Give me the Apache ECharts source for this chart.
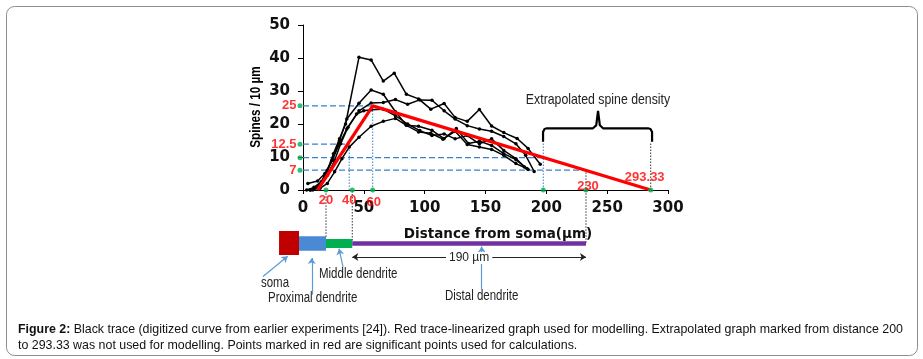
<!DOCTYPE html>
<html>
<head>
<meta charset="utf-8">
<script src="https://cdn.jsdelivr.net/npm/echarts@6/dist/echarts.min.js"></script>
<style>
  html, body { margin: 0; padding: 0; background: #fff; }
  #chart { width: 923px; height: 359px; }
</style>
</head>
<body>
<div id="chart"></div>
<script>
const traceA = [[3,0],[9,0.8],[15,2.5],[20,6],[25,11],[30,15.5],[35,20],[46,40.2],[56,39.4],[66,33],[75,35.4],[85,29],[95,27.6],[105,24.5],[116,26.2],[125,22],[135,20.8],[145,24.4],[155,19.4],[165,17.4],[176,15.6],[185,12.6],[195,7.8]];
const traceB = [[6,0],[12,1],[18,4],[24,9],[30,15],[36,21.5],[46,26.3],[56,30.3],[66,29],[76,23.7],[85,19.6],[95,19.3],[106,18.1],[116,15.6],[126,18.6],[136,14.1],[145,14.8],[155,13.5],[165,11],[175,9.2],[185,6.2]];
const traceC = [[8,0],[14,1.5],[20,4.5],[26,9],[31,14],[37,19],[46,24],[56,26.4],[66,26.5],[76,27.4],[86,26],[96,27.3],[106,27.2],[116,24],[125,21.5],[135,19.5],[145,18.5],[155,17.8],[165,16.2],[175,14],[183,10.5],[190,5.6]];
const traceD = [[4,2],[12,2.7],[18,5],[24,9],[30,14],[36,18.5],[44,23],[50,24],[56,24.3],[66,24.5],[76,22.5],[86,20],[96,18],[106,16.5],[116,17],[125,15.5],[135,16.5],[145,14],[155,15.5],[165,12],[175,9.5],[182,7]];
const traceE = [[6,0],[14,0.5],[20,2],[26,5.5],[32,9.5],[38,13],[46,16],[56,19.3],[66,20.8],[76,21.7],[85,19.6],[95,17.6],[105,17.2],[115,15.4],[125,17.8],[135,13.8],[145,13],[155,12.3],[165,10.5],[175,8],[184,6.5]];

// linearized (red) trace
const redTrace = [[12,0],[57.3,25.5],[285.8,0]];

// significant points (green) on the axes, with their red labels
const xMarks = [18.9, 40.5, 57.3, 197.5, 232.6, 285.8];
const xMarkLabels = ['20', '40', '60', '', '230', '293.33'];
const yMarks = [25.5, 13.9, 9.8, 6];
const yMarkLabels = ['25', '12.5', '', '7'];

// guide lines
const dashedH = [[0, 57.3, 25.5], [0, 38, 13.9], [0, 197.5, 9.8], [0, 232.6, 6]];
const dottedBlueV = [[38, 0, 13.9], [57.3, 0, 25.5], [197.5, 0, 14.6]];
const dottedDarkV = [[18.9, -14.2, 0], [40.5, -15.3, 0], [232.6, -16, 6], [285.8, 0, 14.6]];

// extrapolation brace
const brace = [[197.3,14.6],[197.3,17.6],[198.5,18.5],[200.5,18.7],[238.3,18.7],[241,19.6],[242.5,24],[244,19.6],[246.6,18.7],[283.6,18.7],[285.6,18.5],[286.9,17.6],[286.9,14.6]];

// dendrite diagram: [from, to, y]
const soma = [-19.7, -3.3, -16.1];
const proximal = [-3.3, 18.9, -16.1];
const middle = [18.9, 40.5, -16.2];
const distal = [40.5, 232.6, -16.2];
const span190 = [40.5, 232.6, -20.3];
const pointers = [
  [[-32.9, -26.2], [-12.6, -20.1]],
  [[7.2, -31.7], [7.2, -20.6]],
  [[32.9, -23.3], [29.6, -17.8]],
  [[146.9, -30.2], [146.9, -17.1]]
];

const xTicks = [0, 50, 100, 150, 200, 250, 300];
const yTicks = [0, 10, 20, 30, 40, 50];

const sans = "'Liberation Sans', Arial, sans-serif";
const chart = echarts.init(document.getElementById('chart'));

const series = [];
const seg = (pts, color, width, type, z) => series.push({
  type: 'line', data: pts, symbol: 'none', clip: false, silent: true, z: z || 2,
  lineStyle: {color: color, width: width, type: type}
});
dashedH.forEach(d => seg([[d[0], d[2]], [d[1], d[2]]], '#3b82cc', 1.3, [6, 3]));
dottedBlueV.forEach(d => seg([[d[0], d[1]], [d[0], d[2]]], '#3b82cc', 1, [1.5, 1.5]));
dottedDarkV.forEach(d => seg([[d[0], d[1]], [d[0], d[2]]], '#333', 1, [1.5, 1.5]));

[traceA, traceB, traceC, traceD, traceE].forEach(t => series.push({
  type: 'line', data: t, symbol: 'circle', symbolSize: 3.5, clip: false, z: 3,
  itemStyle: {color: '#000'}, lineStyle: {color: '#000', width: 1.5}
}));

series.push({
  type: 'line', data: redTrace, symbol: 'none', z: 4,
  lineStyle: {color: '#ff0000', width: 3.2}
});

seg(brace, '#000', 2.2, 'solid', 4);

const bar = (b, color, w) => series.push({
  type: 'lines', coordinateSystem: 'cartesian2d', clip: false, z: 5, symbol: 'none',
  lineStyle: {color: color, width: w, cap: 'butt', opacity: 1},
  data: [{coords: [[b[0], b[2]], [b[1], b[2]]]}]
});
bar(soma, '#c00000', 24);
bar(proximal, '#4a8ad4', 14.5);
bar(middle, '#00b050', 9);
bar(distal, '#7030a0', 4.5);

series.push({
  type: 'lines', coordinateSystem: 'cartesian2d', clip: false, z: 5,
  symbol: ['arrow', 'arrow'], symbolSize: 6,
  lineStyle: {color: '#222', width: 1, opacity: 1},
  label: {show: true, position: 'middle', formatter: '190 µm', color: '#222',
    fontFamily: sans, fontSize: 12, backgroundColor: '#fff', padding: [0, 3], distance: -7},
  data: [{coords: [[span190[0], span190[2]], [span190[1], span190[2]]]}]
});

series.push({
  type: 'lines', coordinateSystem: 'cartesian2d', clip: false, z: 5,
  symbol: ['none', 'arrow'], symbolSize: 6,
  lineStyle: {color: '#5b9bd5', width: 1.2, opacity: 1},
  data: pointers.map(p => ({coords: p}))
});

const xOffsets = [[0, 0], [-3, 0], [1, 2], [0, 0], [2, 6], [-6, -3]];
series.push({
  type: 'scatter', z: 6, clip: false, symbolSize: 5, itemStyle: {color: '#00b050'},
  data: xMarks.map((x, i) => ({
    value: [x, 0],
    label: {show: xMarkLabels[i] !== '', formatter: xMarkLabels[i],
      position: i >= 4 ? 'top' : 'bottom', distance: 1, offset: xOffsets[i],
      color: '#ff0000', fontWeight: 'bold', fontSize: 13, fontFamily: sans}
  }))
});
series.push({
  type: 'scatter', z: 6, clip: false, symbolSize: 5, symbolOffset: [-3, 0],
  itemStyle: {color: '#00b050'},
  data: yMarks.map((y, i) => ({
    value: [0, y],
    label: {show: yMarkLabels[i] !== '', formatter: yMarkLabels[i], position: 'left',
      distance: 0, offset: [-1, 0],
      color: '#ff0000', fontWeight: 'bold', fontSize: 13, fontFamily: sans}
  }))
});

const note = (text, x, y) => ({
  type: 'text', x: x, y: y, scaleX: 0.82,
  style: {text: text, fill: '#222', font: "14px 'Liberation Sans', Arial, sans-serif", textVerticalAlign: 'middle'}
});

chart.setOption({
  animation: false,
  grid: {left: 303, top: 25, width: 365, height: 165},
  xAxis: {
    type: 'value', min: xTicks[0], max: xTicks[xTicks.length - 1], interval: 50,
    splitLine: {show: false},
    axisLine: {lineStyle: {color: '#000', width: 1}},
    axisTick: {show: true, length: 4, lineStyle: {color: '#000'}},
    axisLabel: {margin: 11, color: '#111', fontWeight: 'bold', fontSize: 15,
      fontFamily: "'DejaVu Sans', sans-serif"}
  },
  yAxis: {
    type: 'value', min: yTicks[0], max: yTicks[yTicks.length - 1], interval: 10,
    splitLine: {show: false},
    axisLine: {show: true, lineStyle: {color: '#000', width: 1}},
    axisTick: {show: true, length: 5, lineStyle: {color: '#000'}},
    axisLabel: {margin: 13, color: '#111', fontWeight: 'bold', fontSize: 15,
      fontFamily: "'DejaVu Sans', sans-serif"}
  },
  graphic: [
    {type: 'rect', shape: {x: 6.5, y: 6.5, width: 911, height: 349, r: 8}, silent: true,
      style: {fill: 'none', stroke: '#8c8c8c', lineWidth: 1}},
    {type: 'text', x: 256, y: 107, rotation: Math.PI / 2, scaleX: 0.78,
      style: {text: 'Spines / 10 µm', fill: '#000', font: "bold 15px 'Liberation Sans', Arial, sans-serif",
        textAlign: 'center', textVerticalAlign: 'middle'}},
    {type: 'text', x: 598, y: 100, scaleX: 0.82,
      style: {text: 'Extrapolated spine density', fill: '#222',
        font: "15px 'Liberation Sans', Arial, sans-serif", textAlign: 'center', textVerticalAlign: 'middle'}},
    {type: 'text', x: 498, y: 234, style: {text: 'Distance from soma(µm)', fill: '#111',
      font: "bold 13.5px 'DejaVu Sans', sans-serif", textAlign: 'center', textVerticalAlign: 'middle'}},
    note('soma', 261, 283),
    note('Proximal dendrite', 268, 298),
    note('Middle dendrite', 319, 274),
    note('Distal dendrite', 445, 296),
    {type: 'text', x: 18, y: 330, style: {
      text: '{b|Figure 2:} Black trace (digitized curve from earlier experiments [24]). Red trace-linearized graph used for modelling. Extrapolated graph marked from distance 200',
      fill: '#111', font: "12.4px 'Liberation Sans', Arial, sans-serif", textVerticalAlign: 'middle',
      rich: {b: {fontWeight: 'bold', fontSize: 12.4, fontFamily: sans, fill: '#111'}}}},
    {type: 'text', x: 18, y: 346, style: {
      text: 'to 293.33 was not used for modelling. Points marked in red are significant points used for calculations.',
      fill: '#111', font: "12.4px 'Liberation Sans', Arial, sans-serif", textVerticalAlign: 'middle'}}
  ],
  series: series
});
</script>
</body>
</html>
